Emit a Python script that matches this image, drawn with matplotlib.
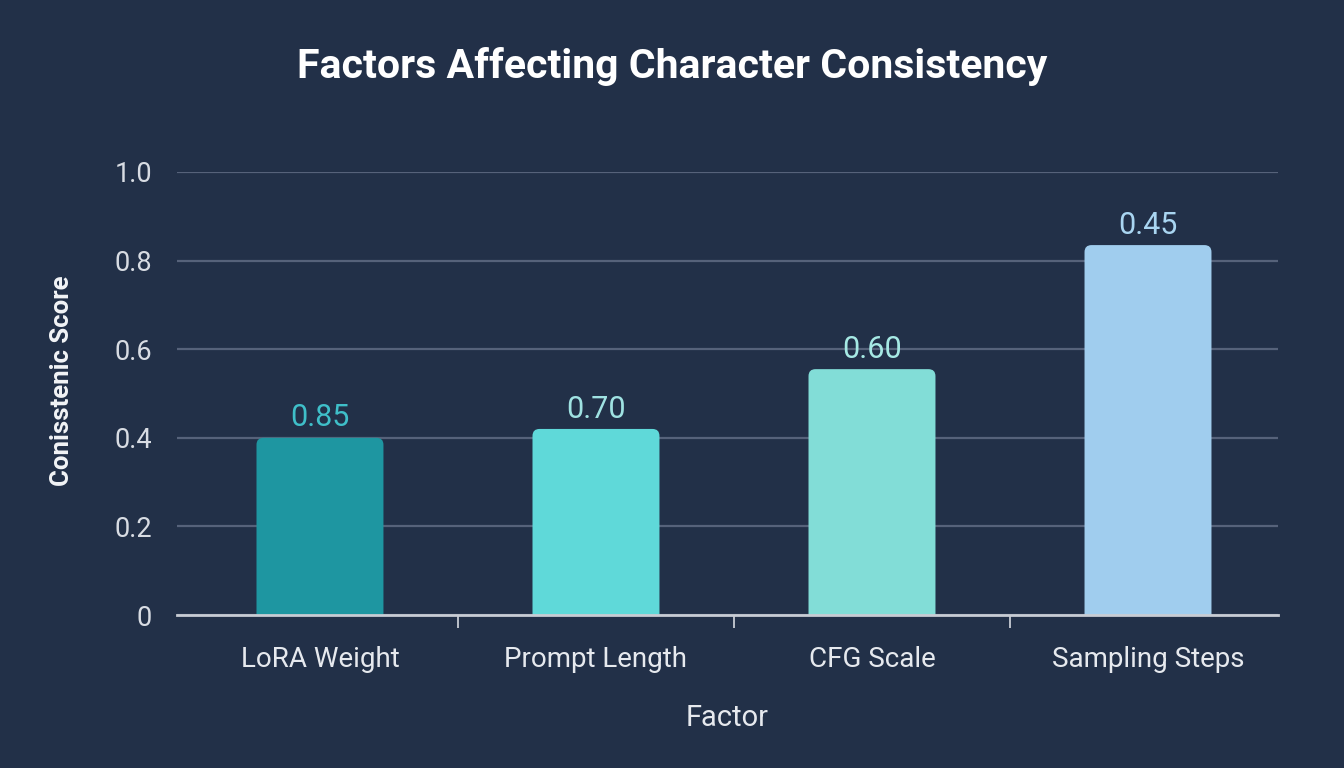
import matplotlib
matplotlib.use("Agg")
import matplotlib.pyplot as plt
from matplotlib.patches import FancyBboxPatch

categories = ["LoRA Weight", "Prompt Length", "CFG Scale", "Sampling Steps"]
bar_heights = [0.40, 0.42, 0.555, 0.835]
value_labels = ["0.85", "0.70", "0.60", "0.45"]
ytick_values = [0, 0.2, 0.4, 0.6, 0.8, 1.0]
ytick_labels = ["0", "0.2", "0.4", "0.6", "0.8", "1.0"]

bar_colors = ["#1e96a1", "#5fd9d9", "#82ddd7", "#a0cdee"]
label_colors = ["#3fbfc9", "#9fe2e2", "#a6e9e4", "#a9d5f1"]
bg = "#223048"

plt.rcParams['font.family'] = ['Roboto', 'DejaVu Sans']

fig = plt.figure(figsize=(13.44, 7.68), dpi=100, facecolor=bg)
ax = fig.add_axes([177/1344, 1-615/768, (1278-177)/1344, (615-172)/768])
ax.set_facecolor(bg)

x = list(range(len(categories)))
width = 0.46
bars = ax.bar(x, bar_heights, width=width, color=bar_colors, zorder=3)

ax.set_xlim(-0.518, 3.471)
ax.set_ylim(0, 1.0)

# replace bars with rounded versions
xpp = (3.471 + 0.518) / (1278 - 177)
ypp = 1.0 / (615 - 172)
for b, c in zip(bars, bar_colors):
    b.set_visible(False)
    r = 7 * xpp
    p = FancyBboxPatch((b.get_x(), -0.03), b.get_width(), b.get_height() + 0.03,
                       boxstyle=f"round,pad=0,rounding_size={r}",
                       mutation_aspect=ypp / xpp, facecolor=c, edgecolor="none",
                       zorder=3, clip_on=True)
    ax.add_patch(p)

for xi, h, t, lc in zip(x, bar_heights, value_labels, label_colors):
    ax.text(xi, h + 0.012, t, ha="center", va="bottom", fontsize=22,
            color=lc, zorder=4)

ax.set_yticks(ytick_values)
ax.set_yticklabels(ytick_labels, fontsize=19.5, color="#d8dce3")
ax.tick_params(axis="y", length=0, pad=18)
ax.grid(axis="y", color="#56627a", linewidth=1.6, zorder=1)
ax.set_axisbelow(True)

ax.set_xticks(x)
ax.set_xticklabels(categories, fontsize=20, color="#e6e9ee")
ax.tick_params(axis="x", which="major", length=0, pad=22)
ax.set_xticks([0.5, 1.5, 2.5], minor=True)
ax.tick_params(axis="x", which="minor", length=9, width=1.3, color="#c8ccd4", direction="out")

for s in ["top", "right", "left"]:
    ax.spines[s].set_visible(False)
ax.spines["bottom"].set_color("#c8ccd4")
ax.spines["bottom"].set_linewidth(2)
ax.spines["bottom"].set_zorder(5)

ax.set_xlabel("Factor", fontsize=21, color="#e6e9ee", labelpad=23)
ax.set_ylabel("Conisstenic Score", fontsize=18.5, fontweight="bold", color="#f2f4f7")
ax.yaxis.set_label_coords(-0.094, 0.528)

fig.text(0.5, 1 - 66/768, "Factors Affecting Character Consistency", ha="center", va="center",
         fontsize=29.5, fontweight="bold", color="#ffffff")

fig.savefig("out.png", dpi=100, facecolor=bg)
